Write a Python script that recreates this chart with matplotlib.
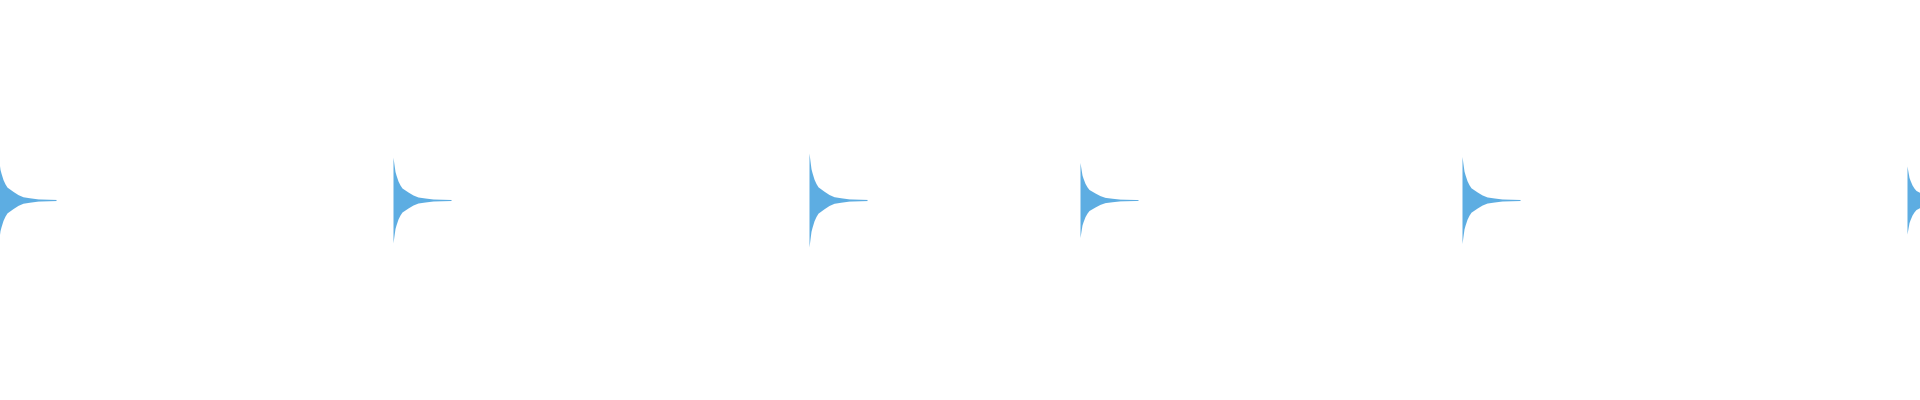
import numpy as np
import matplotlib
matplotlib.use("Agg")
import matplotlib.pyplot as plt

# hit onsets (x position) and peak amplitude of each decaying burst
onsets = [-2, 393, 809, 1080, 1462, 1907]
peaks = [46, 42.8, 47, 37.5, 43.5, 34]

env_offset = [0, 1, 2, 3, 4, 5, 6, 7, 8, 9, 15, 20, 25, 32, 40, 58]
env_height = [42.8, 35.5, 28.5, 25, 22, 19, 17, 15, 13.5, 12, 8, 5, 3, 2, 1, 0.5]

color = "#5DADE2"

fig = plt.figure(figsize=(19.2, 4), dpi=100)
ax = fig.add_axes([0, 0, 1, 1])

env_offset = np.array(env_offset, dtype=float)
env_height = np.array(env_height, dtype=float)

for t0, amp in zip(onsets, peaks):
    x = t0 + env_offset
    h = amp * env_height / env_height[0]
    ax.fill_between(x, -h, h, color=color, linewidth=0)

ax.set_xlim(0, 1920)
ax.set_ylim(-200, 200)
ax.axis("off")

fig.savefig("out.png", dpi=100, facecolor="white")
